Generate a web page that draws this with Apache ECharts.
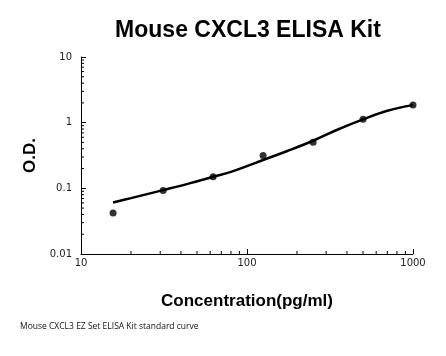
<!DOCTYPE html>
<html>
<head>
<meta charset="utf-8">
<script src="https://cdn.jsdelivr.net/npm/echarts@6/dist/echarts.min.js"></script>
<style>html,body{margin:0;padding:0;background:#fff}#c{width:446px;height:356px}</style>
</head>
<body>
<div id="c"></div>
<script>
// Standard points (concentration pg/ml, O.D.)
const concentrations = [15.6, 31.25, 62.5, 125, 250, 500, 1000];
const odValues = [0.042, 0.093, 0.150, 0.316, 0.505, 1.13, 1.86];
// Fitted curve
const curveX = [15.6, 20, 31.25, 45, 62.5, 80, 100, 125, 175, 250, 350, 500, 700, 1000];
const curveY = [0.061, 0.071, 0.094, 0.119, 0.150, 0.178, 0.218, 0.27, 0.37, 0.53, 0.78, 1.12, 1.52, 1.85];
// Tick labels / minor tick values
const xMinorTicks = [20, 30, 40, 50, 60, 70, 80, 90, 200, 300, 400, 500, 600, 700, 800, 900];
const yMinorTicks = [0.02, 0.03, 0.04, 0.05, 0.06, 0.07, 0.08, 0.09, 0.2, 0.3, 0.4, 0.5, 0.6, 0.7, 0.8, 0.9, 2, 3, 4, 5, 6, 7, 8, 9];

const chart = echarts.init(document.getElementById('c'), null, {renderer: 'canvas'});
const labelFont = {color: '#222', fontFamily: 'DejaVu Sans', fontSize: 10};

chart.setOption({
  animation: false,
  backgroundColor: '#fff',
  title: [{
    text: 'Mouse CXCL3 ELISA Kit',
    left: 243, top: 14, textAlign: 'center',
    textStyle: {fontFamily: 'Liberation Sans', fontWeight: 'bold', fontSize: 23, color: '#000'}
  }, {
    text: 'Mouse CXCL3 EZ Set ELISA Kit standard curve',
    left: 15, top: 317,
    textStyle: {fontFamily: 'Open Sans', fontWeight: 'normal', fontSize: 8.5, color: '#111'}
  }],
  grid: {left: 81, top: 57, width: 332, height: 197, containLabel: false},
  xAxis: {
    type: 'log', logBase: 10, min: 10, max: 1000,
    name: 'Concentration(pg/ml)', nameLocation: 'middle', nameGap: 39,
    nameTextStyle: {fontFamily: 'Liberation Sans', fontWeight: 'bold', fontSize: 17, color: '#000'},
    axisLine: {lineStyle: {color: '#000', width: 1}},
    axisTick: {inside: true, length: 5, lineStyle: {color: '#000'}},
    axisLabel: Object.assign({margin: 4, formatter: v => String(v)}, labelFont),
    splitLine: {show: false}
  },
  yAxis: {
    type: 'log', logBase: 10, min: 0.01, max: 10,
    name: 'O.D.', nameLocation: 'middle', nameGap: 36, nameRotate: 90,
    nameTextStyle: {fontFamily: 'Liberation Sans', fontWeight: 'bold', fontSize: 17, color: '#000'},
    axisLine: {show: true, lineStyle: {color: '#000', width: 1}},
    axisTick: {show: true, inside: true, length: 5, lineStyle: {color: '#000'}},
    axisLabel: Object.assign({margin: 9, formatter: v => String(v)}, labelFont),
    splitLine: {show: false}
  },
  series: [
    {
      type: 'line', smooth: 0.4, showSymbol: false, z: 3,
      data: curveX.map((x, i) => [x, curveY[i]]),
      lineStyle: {color: '#000', width: 2.5}
    },
    {
      type: 'scatter', symbol: 'circle', symbolSize: 7, z: 4,
      data: concentrations.map((x, i) => [x, odValues[i]]),
      itemStyle: {color: '#000'}
    },
    {
      type: 'custom', clip: false, silent: true,
      data: xMinorTicks.map(v => [v, 0.01]),
      renderItem: (params, api) => {
        const p = api.coord([api.value(0), api.value(1)]);
        return {type: 'line', shape: {x1: p[0], y1: p[1], x2: p[0], y2: p[1] - 3}, style: {stroke: '#000', lineWidth: 1}};
      }
    },
    {
      type: 'custom', clip: false, silent: true,
      data: yMinorTicks.map(v => [10, v]),
      renderItem: (params, api) => {
        const p = api.coord([api.value(0), api.value(1)]);
        return {type: 'line', shape: {x1: p[0], y1: p[1], x2: p[0] + 3, y2: p[1]}, style: {stroke: '#000', lineWidth: 1}};
      }
    }
  ]
});
</script>
</body>
</html>
